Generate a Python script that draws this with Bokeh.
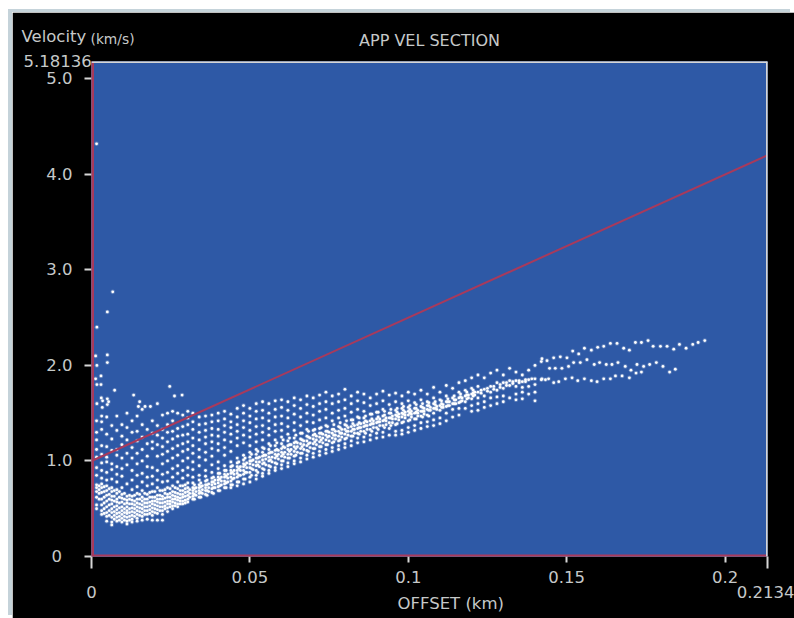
from bokeh.embed import file_html
from bokeh.models import FixedTicker, LinearAxis, Range1d, Span, Title
from bokeh.plotting import figure
from bokeh.resources import INLINE

X_MAX = 0.2134
Y_MAX = 5.18136

x_ticks = [0.05, 0.1, 0.15, 0.2]
x_tick_labels = ["0.05", "0.1", "0.15", "0.2"]
x_end_ticks = [0, X_MAX]
x_end_labels = ["0", "0.2134"]
y_ticks = [0, 1, 2, 3, 4, 5]
y_tick_labels = ["0\u00a0\u00a0", "1.0", "2.0", "3.0", "4.0", "5.0"]

reference_line_x = [0.0, 0.2134]
reference_line_v = [1.0, 4.2]

outlier_x = [.0016, .0067, .005, .0017, .0013, .005, .005, .0017, .003, .0013, .0017, .003,
             .0073, .0133, .0247, .0262, .0286, .0208, .0152, .0148, .0169, .0186, .0031,
             .0035, .005, .0054, .005, .0017, .0034]
outlier_v = [4.32, 2.77, 2.56, 2.40, 2.10, 2.11, 2.03, 2.00, 1.89, 1.86, 1.80, 1.80,
             1.74, 1.69, 1.78, 1.68, 1.69, 1.60, 1.62, 1.57, 1.57, 1.57, 1.66,
             1.63, 1.65, 1.62, 1.59, 1.60, 1.56]

near_offsets = [.0016, .0032, .0048, .0064, .008, .0096, .0112, .0128, .0144, .016, .0176,
                .0192, .0208, .0224, .024, .0256, .0272, .0288, .0304]
near_velocities = [
    [1.42, 1.30, 1.22, 1.12, 1.04, .93, .85, .75, .72, .68, .62, .54, .50],
    [1.47, 1.41, 1.33, 1.16, 1.07, .98, .90, .82, .76, .72, .67, .60, .54, .48, .44],
    [1.46, 1.28, 1.15, 1.04, .99, .88, .80, .74, .69, .64, .58, .52, .46, .42, .37],
    [1.37, 1.23, 1.11, .97, .91, .81, .72, .68, .63, .59, .55, .50, .46, .41, .36, .33],
    [1.47, 1.32, 1.12, 1.06, .94, .86, .78, .70, .66, .60, .57, .53, .49, .45, .41, .37],
    [1.38, 1.26, 1.17, 1.03, .92, .84, .72, .65, .61, .57, .52, .48, .44, .40, .36],
    [1.50, 1.35, 1.22, 1.08, .96, .76, .63, .59, .56, .52, .48, .45, .41, .37, .34],
    [1.42, 1.30, 1.14, 1.03, .90, .80, .70, .63, .59, .55, .51, .47, .43, .39, .36],
    [1.47, 1.31, 1.21, 1.08, .97, .85, .73, .66, .60, .56, .52, .48, .44, .40, .37],
    [1.54, 1.38, 1.25, 1.12, 1.00, .87, .78, .69, .62, .58, .54, .50, .46, .42, .38],
    [1.33, 1.18, 1.05, .94, .83, .74, .65, .60, .56, .52, .48, .44, .39],
    [1.42, 1.29, 1.20, 1.13, .93, .84, .76, .68, .62, .58, .55, .51, .47, .43, .38],
    [1.37, 1.27, 1.17, 1.05, .90, .80, .72, .64, .60, .57, .53, .49, .45, .38],
    [1.48, 1.33, 1.24, 1.15, 1.07, .97, .86, .78, .69, .63, .60, .56, .52, .48, .44, .38],
    [1.50, 1.38, 1.30, 1.20, 1.10, 1.00, .88, .79, .72, .65, .62, .58, .55, .51, .47],
    [1.52, 1.42, 1.31, 1.23, 1.13, 1.03, .92, .83, .74, .68, .64, .60, .57, .53, .50],
    [1.50, 1.34, 1.26, 1.16, 1.06, .95, .87, .78, .71, .66, .62, .59, .55, .52],
    [1.48, 1.36, 1.27, 1.18, 1.10, 1.00, .90, .82, .74, .69, .65, .62, .58, .55],
    [1.52, 1.45, 1.38, 1.28, 1.20, 1.12, 1.03, .93, .85, .77, .72, .68, .64, .60, .57],
]

near_fill_offsets = [.0024, .004, .0056, .0072, .0088, .0104, .012, .0136, .0152, .0168,
                     .0184, .02, .0216, .0232, .0248, .0264, .028, .0296]
near_fill_velocities = [
    [.74, .70, .66, .60],
    [.73, .68, .62, .56, .50, .45],
    [.71, .65, .60, .54, .48, .43],
    [.69, .63, .58, .52, .47, .43, .39],
    [.68, .62, .56, .51, .46, .42, .38],
    [.66, .60, .55, .50, .46, .42, .38],
    [.64, .60, .55, .50, .46, .42, .38],
    [.64, .58, .54, .50, .46, .42],
    [.65, .60, .55, .51, .47, .43],
    [.66, .60, .56, .52, .48, .44],
    [.67, .62, .57, .53, .49, .45],
    [.68, .62, .58, .54, .50, .46],
    [.69, .64, .60, .56, .52, .48],
    [.70, .66, .61, .57, .53, .50],
    [.71, .66, .62, .58, .55, .52],
    [.72, .67, .63, .60, .56, .53],
    [.74, .69, .65, .61, .58, .55],
    [.75, .71, .67, .63, .59, .56],
]

mid_offsets = [.032, .034, .036, .038, .04, .042, .044, .046, .048, .05, .052, .054, .056,
               .058, .06, .062, .064, .066, .068, .07, .072, .074, .076, .078, .08]
mid_velocities = [
    [1.50, 1.41, 1.33, 1.24, 1.16, 1.08, .99, .91, .83, .77, .72, .69, .66, .63, .60],
    [1.46, 1.38, 1.30, 1.22, 1.12, 1.04, .95, .85, .80, .75, .72, .69, .66, .62],
    [1.47, 1.39, 1.32, 1.25, 1.18, 1.09, 1.01, .90, .84, .79, .75, .72, .69, .65],
    [1.48, 1.41, 1.34, 1.27, 1.20, 1.13, 1.05, .96, .88, .82, .78, .75, .71, .67],
    [1.50, 1.42, 1.33, 1.26, 1.18, 1.11, .99, .92, .87, .83, .80, .77, .73, .69],
    [1.52, 1.44, 1.37, 1.30, 1.22, 1.14, 1.06, .95, .90, .86, .83, .79, .76, .72],
    [1.49, 1.41, 1.35, 1.28, 1.20, 1.10, .99, .94, .90, .87, .83, .79, .75, .72],
    [1.55, 1.46, 1.38, 1.31, 1.24, 1.16, 1.03, .98, .94, .90, .87, .83, .78, .74],
    [1.58, 1.50, 1.42, 1.35, 1.27, 1.19, 1.06, 1.01, .97, .94, .90, .86, .81, .76],
    [1.55, 1.47, 1.40, 1.32, 1.25, 1.16, 1.09, 1.04, 1.00, .97, .93, .88, .83, .78],
    [1.60, 1.52, 1.44, 1.36, 1.28, 1.20, 1.12, 1.07, 1.03, .99, .95, .90, .85, .81],
    [1.62, 1.53, 1.45, 1.37, 1.30, 1.22, 1.14, 1.09, 1.05, 1.01, .97, .92, .87, .84],
    [1.60, 1.50, 1.42, 1.34, 1.27, 1.18, 1.12, 1.08, 1.04, 1.00, .95, .90, .87],
    [1.63, 1.54, 1.46, 1.38, 1.31, 1.22, 1.16, 1.11, 1.07, 1.03, .98, .93, .90],
    [1.64, 1.56, 1.47, 1.39, 1.32, 1.25, 1.18, 1.13, 1.09, 1.05, 1.00, .96, .92],
    [1.62, 1.53, 1.45, 1.36, 1.28, 1.21, 1.16, 1.12, 1.07, 1.03, .98, .94],
    [1.66, 1.58, 1.49, 1.40, 1.32, 1.24, 1.19, 1.15, 1.10, 1.05, 1.00, .97],
    [1.64, 1.55, 1.46, 1.37, 1.29, 1.23, 1.18, 1.13, 1.08, 1.03, .99],
    [1.68, 1.59, 1.50, 1.41, 1.33, 1.26, 1.21, 1.16, 1.11, 1.06, 1.02],
    [1.66, 1.57, 1.48, 1.40, 1.32, 1.27, 1.23, 1.18, 1.13, 1.08, 1.04],
    [1.69, 1.60, 1.52, 1.43, 1.34, 1.29, 1.25, 1.20, 1.15, 1.10, 1.06],
    [1.72, 1.62, 1.54, 1.45, 1.37, 1.31, 1.27, 1.22, 1.17, 1.12, 1.08],
    [1.68, 1.60, 1.50, 1.42, 1.33, 1.29, 1.24, 1.19, 1.14, 1.10],
    [1.70, 1.62, 1.53, 1.45, 1.36, 1.31, 1.26, 1.21, 1.16, 1.12],
    [1.75, 1.64, 1.55, 1.47, 1.38, 1.33, 1.28, 1.23, 1.18, 1.14],
]

band_offsets = [.031, .033, .035, .037, .039, .041, .043, .045, .047, .049, .051, .053, .055,
                .057, .059, .061, .063, .065, .067, .069, .071, .073, .075, .077, .079, .081,
                .083, .085, .087, .089, .091, .093, .095, .097, .099, .101, .103, .105, .107,
                .109, .111, .113, .115, .117, .119, .121, .123, .125, .127, .129, .131, .133,
                .135, .137, .139]
band_velocities = [
    [.70, .66, .62], [.72, .68, .64], [.74, .70, .66], [.76, .72, .68], [.80, .76, .72],
    [.83, .79, .75], [.86, .82, .78], [.90, .86, .82], [.94, .90, .85], [.98, .93, .88],
    [1.01, .96, .91], [1.04, .99, .94], [1.06, 1.02, .96], [1.09, 1.04, .99], [1.11, 1.07, 1.02],
    [1.14, 1.09, 1.04], [1.17, 1.12, 1.07], [1.19, 1.15, 1.09], [1.21, 1.17, 1.12], [1.24, 1.19, 1.14],
    [1.26, 1.22, 1.17], [1.28, 1.24, 1.19], [1.30, 1.26, 1.21], [1.31, 1.27, 1.23], [1.33, 1.29, 1.25],
    [1.35, 1.31, 1.27], [1.37, 1.33, 1.29], [1.39, 1.35, 1.31], [1.41, 1.37, 1.33], [1.42, 1.39, 1.35],
    [1.44, 1.41, 1.37], [1.45, 1.42, 1.38], [1.47, 1.44, 1.40], [1.49, 1.46, 1.43], [1.51, 1.48, 1.45],
    [1.52, 1.49, 1.46], [1.53, 1.50, 1.47], [1.55, 1.52, 1.49], [1.56, 1.53], [1.57, 1.54],
    [1.59, 1.56], [1.62, 1.58], [1.64, 1.60], [1.66, 1.63], [1.69, 1.66],
    [1.72, 1.69], [1.74, 1.71], [1.76, 1.73], [1.78, 1.75], [1.80, 1.77],
    [1.82, 1.79], [1.83, 1.81], [1.84, 1.82], [1.85, 1.83], [1.86],
]

wide_band_offsets = [.0325, .0345, .0365, .0385, .0405, .0425, .0445, .0465, .0485, .0505,
                     .0525, .0545, .0565, .0585, .0605, .0625, .0645, .0665, .0685, .0705,
                     .0725, .0745, .0765, .0785, .0805, .0825, .0845, .0865, .0885, .0905,
                     .0925, .0945, .0965, .0985, .1005, .1025, .1045, .1065, .1085, .1105,
                     .1125, .1145, .1165, .1185, .1205]
wide_band_velocities = [
    [.75, .71, .65, .60], [.77, .73, .67, .62], [.80, .75, .69, .64], [.83, .78, .72, .66],
    [.87, .81, .74, .69], [.90, .84, .77, .72], [.95, .88, .81, .75], [.99, .92, .85, .78],
    [1.03, .96, .88, .81], [1.07, 1.00, .92, .85], [1.10, 1.03, .96, .88], [1.13, 1.06, .98, .91],
    [1.16, 1.09, 1.01, .94], [1.19, 1.12, 1.05, .97], [1.22, 1.15, 1.07, 1.00], [1.24, 1.17, 1.10, 1.03],
    [1.27, 1.20, 1.13, 1.06], [1.29, 1.22, 1.15, 1.08], [1.31, 1.25, 1.18, 1.10], [1.33, 1.28, 1.20, 1.13],
    [1.35, 1.29, 1.22, 1.15], [1.36, 1.31, 1.25, 1.17], [1.38, 1.33, 1.27, 1.20], [1.40, 1.35, 1.29, 1.22],
    [1.42, 1.37, 1.31, 1.24], [1.43, 1.39, 1.33, 1.26], [1.45, 1.40, 1.35, 1.28], [1.47, 1.42, 1.37, 1.29],
    [1.49, 1.44, 1.39, 1.31], [1.51, 1.46, 1.41, 1.33], [1.52, 1.48, 1.43, 1.35], [1.54, 1.50, 1.45, 1.37],
    [1.55, 1.51, 1.47, 1.39], [1.57, 1.53, 1.49, 1.41], [1.58, 1.54, 1.50, 1.43], [1.59, 1.55, 1.51, 1.44],
    [1.60, 1.56, 1.52, 1.46], [1.61, 1.58, 1.53, 1.47], [1.62, 1.59, 1.55], [1.63, 1.60, 1.56],
    [1.65, 1.62, 1.58], [1.68, 1.64, 1.60], [1.70, 1.67, 1.62], [1.72, 1.69, 1.65], [1.74, 1.71, 1.68],
]

far_offsets = [.082, .084, .086, .088, .09, .092, .094, .096, .098, .10, .102, .104, .106,
               .108, .11, .112, .114, .116, .118, .12, .122, .124, .126, .128, .13, .132,
               .134, .136, .138, .14, .142]
far_velocities = [
    [1.68, 1.60, 1.51, 1.43, 1.36, 1.31, 1.26, 1.21, 1.16],
    [1.72, 1.63, 1.54, 1.46, 1.38, 1.34, 1.29, 1.24, 1.19],
    [1.70, 1.61, 1.52, 1.45, 1.40, 1.36, 1.31, 1.25, 1.20],
    [1.66, 1.58, 1.49, 1.42, 1.38, 1.33, 1.27, 1.22],
    [1.70, 1.60, 1.51, 1.44, 1.40, 1.35, 1.29, 1.24],
    [1.73, 1.63, 1.54, 1.47, 1.42, 1.37, 1.30, 1.25],
    [1.69, 1.59, 1.50, 1.45, 1.40, 1.34, 1.27],
    [1.71, 1.62, 1.53, 1.48, 1.44, 1.38, 1.31, 1.27],
    [1.68, 1.60, 1.55, 1.50, 1.46, 1.40, 1.32, 1.28],
    [1.72, 1.63, 1.56, 1.52, 1.48, 1.42, 1.35, 1.30],
    [1.70, 1.61, 1.55, 1.50, 1.44, 1.37, 1.32],
    [1.74, 1.64, 1.57, 1.52, 1.47, 1.40, 1.34],
    [1.70, 1.62, 1.58, 1.54, 1.48, 1.41, 1.36],
    [1.77, 1.66, 1.60, 1.55, 1.50, 1.43, 1.37],
    [1.72, 1.64, 1.58, 1.53, 1.45, 1.39],
    [1.79, 1.68, 1.62, 1.57, 1.50, 1.42],
    [1.76, 1.66, 1.60, 1.54, 1.46],
    [1.82, 1.72, 1.66, 1.61, 1.55, 1.48],
    [1.84, 1.74, 1.68, 1.62, 1.55],
    [1.87, 1.76, 1.70, 1.65, 1.58, 1.52],
    [1.90, 1.78, 1.72, 1.66, 1.60, 1.53],
    [1.87, 1.75, 1.68, 1.62, 1.56],
    [1.92, 1.78, 1.72, 1.66, 1.58],
    [1.95, 1.82, 1.74, 1.67, 1.60],
    [1.90, 1.82, 1.76, 1.68, 1.62],
    [1.97, 1.84, 1.79, 1.66],
    [1.93, 1.84, 1.78, 1.70, 1.64],
    [1.90, 1.83, 1.77, 1.72, 1.65],
    [1.95, 1.85, 1.78, 1.70],
    [2.00, 1.86, 1.80, 1.72, 1.63],
    [2.04, 1.85],
]

tail_upper_x = [.1422, .1438, .1459, .148, .1501, .1519, .1538, .1556, .1578, .1598, .1617,
                .1638, .1659, .168, .1698, .1717, .1736, .1757, .1773, .1796, .1817, .1838,
                .1856, .1877, .1898, .1915, .1936]
tail_upper_v = [2.07, 2.05, 2.08, 2.09, 2.08, 2.15, 2.12, 2.18, 2.16, 2.19, 2.20,
                2.23, 2.23, 2.18, 2.16, 2.24, 2.24, 2.26, 2.20, 2.20, 2.20, 2.17,
                2.22, 2.18, 2.22, 2.24, 2.26]
tail_middle_x = [.1446, .1464, .1485, .1506, .1522, .1543, .1564, .1587, .1604, .1625, .1643,
                 .1662, .1685, .1703, .1722, .1743, .1762, .1783, .1804, .1825, .1843]
tail_middle_v = [1.97, 1.97, 1.97, 1.99, 2.03, 2.03, 2.06, 2.01, 2.03, 2.01, 2.01,
                 2.03, 1.99, 1.95, 2.01, 1.99, 2.01, 2.03, 1.99, 1.93, 1.96]
tail_lower_x = [.1422, .1433, .1443, .1459, .1475, .1496, .1517, .1535, .1556, .1578, .1596,
                .1617, .1638, .1654, .1675, .1698, .1719, .1736]
tail_lower_v = [1.86, 1.85, 1.86, 1.82, 1.83, 1.86, 1.87, 1.84, 1.86, 1.84, 1.83,
                1.86, 1.86, 1.89, 1.89, 1.87, 1.92, 1.93]


def flatten(offsets, velocities):
    xs, vs = [], []
    for x, column in zip(offsets, velocities):
        xs.extend([x] * len(column))
        vs.extend(column)
    return xs, vs


groups = [flatten(near_offsets, near_velocities),
          flatten(near_fill_offsets, near_fill_velocities),
          flatten(mid_offsets, mid_velocities),
          flatten(band_offsets, band_velocities),
          flatten(wide_band_offsets, wide_band_velocities),
          flatten(far_offsets, far_velocities)]
points_x = outlier_x + tail_upper_x + tail_middle_x + tail_lower_x
points_v = outlier_v + tail_upper_v + tail_middle_v + tail_lower_v
for gx, gv in groups:
    points_x = points_x + gx
    points_v = points_v + gv

BLACK = "#000000"
BLUE = "#2e59a6"
RED = "#a83a5c"
PALE = "#d6d6d6"
TEXT = "#c6c9c9"
FONT = "DejaVu Sans"
TICK_SIZE = "16.5px"

p = figure(
    width=782, height=606, output_backend="svg", toolbar_location=None,
    x_range=Range1d(0, X_MAX), y_range=Range1d(0, Y_MAX),
    x_axis_type=None, y_axis_type=None,
    min_border_left=79, min_border_right=27, min_border_top=49, min_border_bottom=62,
    background_fill_color=BLUE, border_fill_color=BLACK,
    margin=(12, 0, 0, 12),
    styles={"box-shadow": "-4px -3px 0 0 #c5d3da"},
)
p.grid.visible = False
p.outline_line_color = None

xaxis = LinearAxis(
    ticker=FixedTicker(ticks=x_ticks, minor_ticks=x_end_ticks),
    major_label_overrides=dict(zip(x_ticks, x_tick_labels)),
    major_tick_out=6, major_tick_in=0, minor_tick_out=12, minor_tick_in=0,
    major_tick_line_color=PALE, minor_tick_line_color=PALE,
    major_tick_line_width=2, minor_tick_line_width=2,
    axis_line_color=None, major_label_text_color=TEXT,
    major_label_text_font=FONT, major_label_text_font_size=TICK_SIZE,
    major_label_standoff=2,
)
xaxis_ends = LinearAxis(
    ticker=FixedTicker(ticks=x_end_ticks),
    major_label_overrides=dict(zip(x_end_ticks, x_end_labels)),
    major_tick_out=0, major_tick_in=0, minor_tick_out=0, minor_tick_in=0,
    axis_line_color=None, major_label_text_color=TEXT,
    major_label_text_font=FONT, major_label_text_font_size=TICK_SIZE,
    major_label_standoff=0,
)
yaxis = LinearAxis(
    ticker=FixedTicker(ticks=y_ticks),
    major_label_overrides=dict(zip(y_ticks, y_tick_labels)),
    major_tick_out=7, major_tick_in=0, minor_tick_out=0, minor_tick_in=0,
    major_tick_line_color=PALE, major_tick_line_width=2,
    axis_line_color=None, major_label_text_color=TEXT,
    major_label_text_font=FONT, major_label_text_font_size=TICK_SIZE,
    major_label_standoff=12,
)
p.add_layout(xaxis, "below")
p.add_layout(xaxis_ends, "below")
p.add_layout(yaxis, "left")
p.add_layout(Title(text="OFFSET (km)", align="left", offset=306, standoff=-17,
                   text_color=TEXT, text_font=FONT, text_font_size="16.5px",
                   text_font_style="normal"), "below")

above_titles = [
    ("5.18136", "left", -68, -11, TICK_SIZE),
    ("APP VEL SECTION\n\u00a0", "center", 0, -21, "16px"),
    ("(km/s)", "left", -1, -14, "13.8px"),
    ("Velocity", "left", -70, -21, "16.5px"),
]
for text, align, offset, standoff, size in above_titles:
    p.add_layout(Title(text=text, align=align, offset=offset, standoff=standoff,
                       text_color=TEXT, text_font=FONT, text_font_size=size,
                       text_font_style="normal"), "above")

p.scatter(points_x, points_v, size=4.6, color="#ffffff", line_color=None, alpha=0.22)
p.scatter(points_x, points_v, size=2.8, color="#ffffff", line_color=None)
p.line(reference_line_x, reference_line_v, line_color=RED, line_width=2)

p.add_layout(Span(location=0, dimension="height", line_color=RED, line_width=5))
p.add_layout(Span(location=0, dimension="width", line_color=RED, line_width=4))
p.add_layout(Span(location=X_MAX, dimension="height", line_color=PALE, line_width=3))
p.add_layout(Span(location=Y_MAX, dimension="width", line_color=PALE, line_width=3))

open("out.html", "w").write(file_html(p, INLINE))
